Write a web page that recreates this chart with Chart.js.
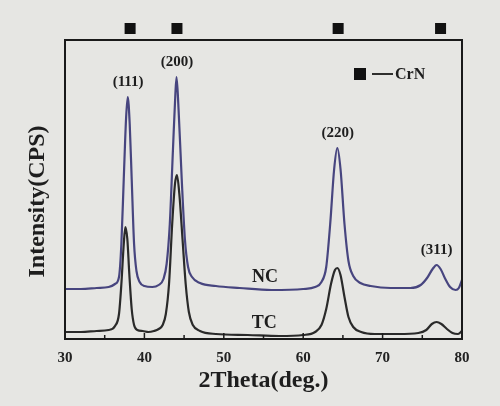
<!DOCTYPE html>
<html>
<head>
<meta charset="utf-8">
<script src="https://cdn.jsdelivr.net/npm/chart.js@4.4.1/dist/chart.umd.min.js"></script>
<style>
  html, body { margin: 0; padding: 0; background: #e6e6e3; }
  #wrap { width: 500px; height: 406px; }
</style>
</head>
<body>
<div id="wrap"><canvas id="xrd" width="500" height="406"></canvas></div>
<script>
// NC pattern (2theta, intensity a.u.)
const ncTheta = [30, 32, 34, 35.5, 36.3, 36.8, 37.1, 37.4, 37.7, 37.9, 38.15, 38.4, 38.7, 39.0, 39.4, 40, 41, 41.8, 42.4, 42.8, 43.2, 43.6, 43.9, 44.05, 44.3, 44.7, 45.1, 45.5, 46, 47, 49, 52, 56, 60, 61.5, 62.3, 62.9, 63.4, 63.9, 64.3, 64.7, 65.2, 65.7, 66.3, 67.2, 68.5, 71, 73.5, 74.8, 75.6, 76.3, 76.8, 77.3, 77.9, 78.5, 79.2, 79.6, 80];
const ncCounts = [50, 50, 51, 52, 55, 62, 95, 160, 222, 242, 215, 160, 95, 68, 57, 53, 52, 54, 60, 75, 115, 190, 245, 262, 230, 160, 100, 72, 62, 56, 53, 51, 49, 50, 52, 57, 72, 115, 170, 191, 170, 115, 78, 63, 56, 53, 51, 51, 54, 61, 70, 74, 70, 60, 52, 49, 51, 59];

// TC pattern
const tcTheta = [30, 32, 34, 35.5, 36.3, 36.8, 37.1, 37.4, 37.6, 37.85, 38.1, 38.4, 38.7, 39.1, 39.8, 40.5, 41.2, 41.8, 42.3, 42.7, 43.1, 43.5, 43.85, 44.1, 44.4, 44.8, 45.2, 45.6, 46.1, 47, 49, 53, 57, 60, 61.5, 62.3, 62.9, 63.5, 64, 64.3, 64.7, 65.2, 65.7, 66.3, 67.3, 69, 72, 74.5, 75.5, 76.2, 76.8, 77.4, 78.1, 78.8, 79.5, 80];
const tcCounts = [7, 7, 8, 9, 13, 25, 55, 95, 112, 100, 65, 30, 14, 9, 8, 7, 8, 10, 14, 25, 55, 115, 155, 164, 145, 100, 55, 27, 14, 8, 5, 4, 3, 4, 7, 14, 30, 55, 69, 71, 64, 42, 22, 12, 7, 5, 5, 6, 9, 15, 17, 15, 10, 6, 5, 8];

// CrN reference reflections
const crnTheta = [38.2, 44.1, 64.4, 77.3];
const peakNames = ['(111)', '(200)', '(220)', '(311)'];
const peakTheta = [37.95, 44.1, 64.35, 76.8];
const peakHeight = [242, 262, 191, 74];

const xTicks = [30, 40, 50, 60, 70, 80];
const serif = '"Liberation Serif", "DejaVu Serif", serif';

function pts(xs, ys) {
  return xs.map(function (x, i) { return {x: x, y: ys[i]}; });
}

const decor = {
  id: 'decor',
  afterDatasetsDraw: function (chart) {
    let ctx = chart.ctx;
    let a = chart.chartArea;
    let xs = chart.scales.x, ys = chart.scales.y;
    ctx.save();
    // frame
    ctx.strokeStyle = '#1a1a1a';
    ctx.lineWidth = 2;
    ctx.strokeRect(a.left, a.top, a.right - a.left, a.bottom - a.top);
    // inner ticks
    ctx.lineWidth = 1.5;
    for (let v = 35; v < 80; v += 5) {
      let px = xs.getPixelForValue(v);
      ctx.beginPath();
      ctx.moveTo(px, a.bottom);
      ctx.lineTo(px, a.bottom - (v % 10 === 0 ? 6 : 4));
      ctx.stroke();
    }
    // CrN markers above the frame
    ctx.fillStyle = '#111';
    crnTheta.forEach(function (t) {
      ctx.fillRect(xs.getPixelForValue(t) - 5.5, a.top - 17, 11, 11);
    });
    // peak labels
    ctx.fillStyle = '#1e1e1e';
    ctx.font = 'bold 15px ' + serif;
    ctx.textAlign = 'center';
    ctx.textBaseline = 'middle';
    peakNames.forEach(function (n, i) {
      ctx.fillText(n, xs.getPixelForValue(peakTheta[i]), ys.getPixelForValue(peakHeight[i]) - 15);
    });
    // sample labels
    ctx.font = 'bold 18px ' + serif;
    ctx.fillText('NC', xs.getPixelForValue(55.2), ys.getPixelForValue(62));
    ctx.fillText('TC', xs.getPixelForValue(55.1), ys.getPixelForValue(16));
    // legend
    let lx = a.left + 289, ly = a.top + 34;
    ctx.fillStyle = '#111';
    ctx.fillRect(lx, ly - 6, 12, 12);
    ctx.beginPath();
    ctx.lineWidth = 1.8;
    ctx.moveTo(lx + 18, ly);
    ctx.lineTo(lx + 39, ly);
    ctx.stroke();
    ctx.fillStyle = '#1e1e1e';
    ctx.textAlign = 'left';
    ctx.font = 'bold 16px ' + serif;
    ctx.fillText('CrN', lx + 41, ly + 1);
    ctx.restore();
  }
};

let chart = new Chart(document.querySelector('#xrd').getContext('2d'), {
  type: 'line',
  data: {
    datasets: [
      {label: 'NC', data: pts(ncTheta, ncCounts), borderColor: '#47457f', borderWidth: 2.2, pointRadius: 0, cubicInterpolationMode: 'monotone'},
      {label: 'TC', data: pts(tcTheta, tcCounts), borderColor: '#2a2a2a', borderWidth: 2.2, pointRadius: 0, cubicInterpolationMode: 'monotone'}
    ]
  },
  options: {
    responsive: false,
    animation: false,
    layout: {padding: {left: 0, right: 38, top: 40, bottom: 7}},
    plugins: {legend: {display: false}, tooltip: {enabled: false}},
    scales: {
      x: {
        type: 'linear', min: 30, max: 80,
        afterBuildTicks: function (s) { s.ticks = xTicks.map(function (v) { return {value: v}; }); },
        afterFit: function (s) { s.height = 60; },
        grid: {display: false},
        border: {display: false},
        ticks: {color: '#222', font: {family: serif, size: 15, weight: 'bold'}, padding: 2, maxRotation: 0},
        title: {display: true, text: '2Theta(deg.)', color: '#1e1e1e', font: {family: serif, size: 24, weight: 'bold'}, padding: {top: 0, bottom: 4}}
      },
      y: {
        min: 0, max: 299,
        afterFit: function (s) { s.width = 65; },
        grid: {display: false},
        border: {display: false},
        ticks: {display: false},
        // trailing spaces nudge the rotated title a little lower, like the original
        title: {display: true, text: 'Intensity(CPS)    ', color: '#1e1e1e', font: {family: serif, size: 24, weight: 'bold'}, padding: {top: 23}}
      }
    }
  },
  plugins: [decor]
});
</script>
</body>
</html>
